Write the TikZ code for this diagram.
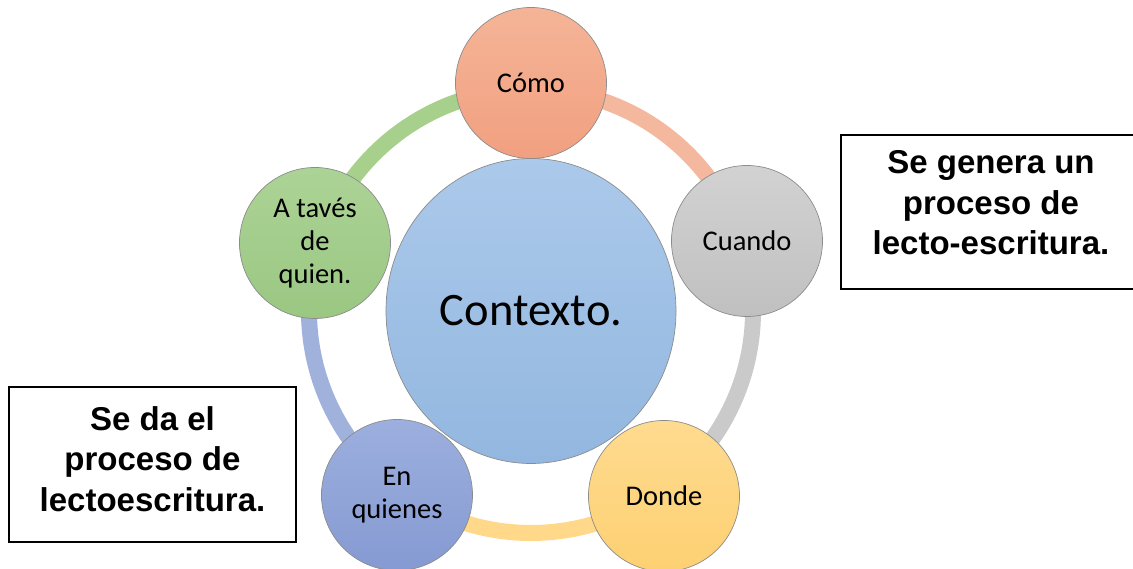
\documentclass[tikz,border=0pt]{standalone}
\usepackage{fontspec}
\usetikzlibrary{shapes.geometric,calc}
\newfontfamily\carlito{Carlito}
\newfontfamily\arialf{Liberation Sans}
\definecolor{comoT}{HTML}{F5B497}
\definecolor{comoB}{HTML}{F1A080}
\definecolor{cuanT}{HTML}{D2D2D2}
\definecolor{cuanB}{HTML}{C0C0C0}
\definecolor{dondT}{HTML}{FFDB90}
\definecolor{dondB}{HTML}{FDD072}
\definecolor{quieT}{HTML}{9CAFDE}
\definecolor{quieB}{HTML}{859AD2}
\definecolor{traT}{HTML}{ACD396}
\definecolor{traB}{HTML}{9AC782}
\definecolor{ctxT}{HTML}{ABC9EA}
\definecolor{ctxB}{HTML}{93B7E0}
\definecolor{ringA}{HTML}{F4B89E}
\definecolor{ringB}{HTML}{CACACA}
\definecolor{ringC}{HTML}{FFD88A}
\definecolor{ringD}{HTML}{A0B1DC}
\definecolor{ringE}{HTML}{A8D08D}
\tikzset{
  bub/.style={circle, draw=black!45, line width=0.7pt, minimum size=151pt, inner sep=0pt,
    align=center, font=\carlito\fontsize{28.5}{33}\selectfont},
  ctxbub/.style={ellipse, draw=black!45, line width=0.7pt, minimum width=290pt, minimum height=305pt,
    inner sep=0pt, font=\carlito\fontsize{46.5}{52}\selectfont, top color=ctxT, bottom color=ctxB},
  ringseg/.style={line width=16pt, line cap=butt},
  notebox/.style={rectangle, draw=black, line width=1.5pt, fill=white, inner sep=0pt},
  notetext/.style={inner sep=0pt, align=center, font=\arialf\bfseries\fontsize{33}{40.5}\selectfont}
}
\begin{document}
\begin{tikzpicture}[x=1pt,y=1pt]
\useasboundingbox (0,0) rectangle (1133,569);
\clip (0,0) rectangle (1133,569);
\coordinate (ctr) at (531,258);
\coordinate (r1) at ($(ctr)+(90:222pt)$);
\coordinate (r2) at ($(ctr)+(18:222pt)$);
\coordinate (r3) at ($(ctr)+(-54:222pt)$);
\coordinate (r4) at ($(ctr)+(-126:222pt)$);
\coordinate (r5) at ($(ctr)+(162:222pt)$);
% ring
\draw[ringseg, ringA] (r1) arc[start angle=90, end angle=18, radius=222pt];
\draw[ringseg, ringB] (r2) arc[start angle=18, end angle=-54, radius=222pt];
\draw[ringseg, ringC] (r3) arc[start angle=-54, end angle=-126, radius=222pt];
\draw[ringseg, ringD] (r4) arc[start angle=234, end angle=162, radius=222pt];
\draw[ringseg, ringE] (r5) arc[start angle=162, end angle=90, radius=222pt];
% central
\node[ctxbub] (ctx) at (531,258) {Contexto.};
% bubbles
\node[bub, top color=comoT, bottom color=comoB] (como) at (531,486) {Cómo};
\node[bub, top color=cuanT, bottom color=cuanB] (cuando) at (747,328) {Cuando};
\node[bub, top color=dondT, bottom color=dondB] (donde) at (664,73) {Donde};
\node[bub, top color=quieT, bottom color=quieB] (quienes) at (397,74) {En\\quienes};
\node[bub, top color=traT, bottom color=traB] (traves) at (315,326) {A tavés\\de\\quien.};
% boxes
\node[notebox, minimum width=300pt, minimum height=154pt] (rbox) at (991,357) {};
\node[notetext] (rtext) at (991,366) {Se genera un\\proceso de\\lecto-escritura.};
\node[notebox, minimum width=287pt, minimum height=155pt] (lbox) at (152.5,104.5) {};
\node[notetext] (ltext) at (152.5,110) {Se da el\\proceso de\\lectoescritura.};
\end{tikzpicture}
\end{document}
